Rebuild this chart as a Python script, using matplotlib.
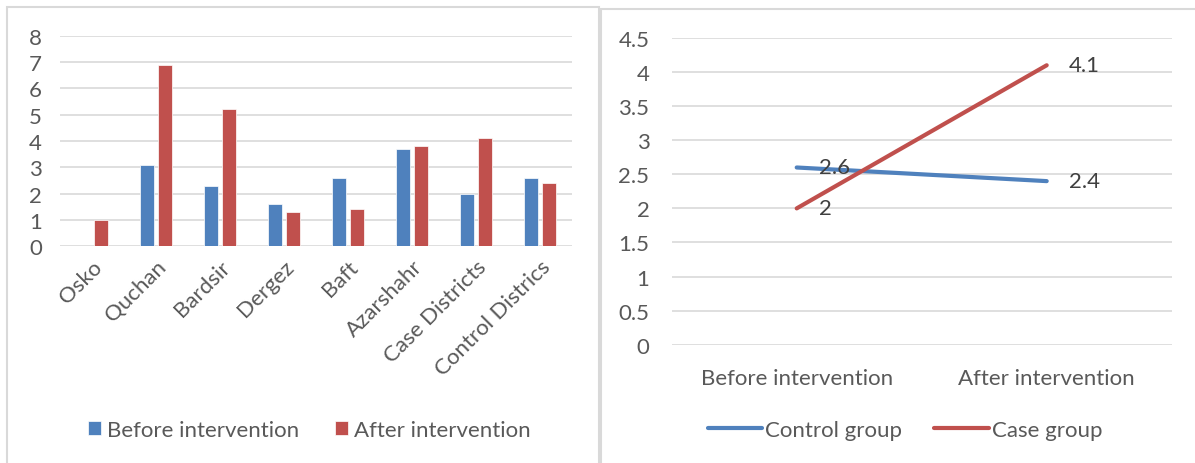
import matplotlib.pyplot as plt
from matplotlib.patches import Rectangle
import numpy as np

# data
districts = ['Osko', 'Quchan', 'Bardsir', 'Dergez', 'Baft', 'Azarshahr',
             'Case Districts', 'Control Districs']
before_vals = [0, 3.1, 2.3, 1.6, 2.6, 3.7, 2.0, 2.6]
after_vals = [1.0, 6.9, 5.2, 1.3, 1.4, 3.8, 4.1, 2.4]

periods = ['Before intervention', 'After intervention']
control_group = [2.6, 2.4]
case_group = [2.0, 4.1]

BLUE = '#4F81BD'
RED = '#C0504D'
TICK_C = '#595959'
LABEL_C = '#404040'
GRID_C = '#D9D9D9'

W, H = 1195, 464
plt.rcParams['font.family'] = ['Lato', 'DejaVu Sans']
FS = 16

fig = plt.figure(figsize=(W / 100, H / 100), dpi=100)


def px_axes(x0, x1, ytop, ybot):
    return fig.add_axes([x0 / W, (H - ybot) / H, (x1 - x0) / W, (ybot - ytop) / H])


# panel borders
for (x0, y0, x1) in [(7, 8, 599), (601, 10, 1200)]:
    fig.patches.append(Rectangle((x0 / W, -0.1), (x1 - x0) / W, (H - y0) / H + 0.1,
                                 transform=fig.transFigure, fill=False,
                                 edgecolor=GRID_C, linewidth=1.5))

# ---- left: bar chart ----
ax1 = px_axes(60, 572, 36.7, 247.3)
x = np.arange(len(districts))
bw = 0.22
ax1.bar(x - 0.14, before_vals, bw, color=BLUE, edgecolor='white', linewidth=0.5,
        label='Before intervention', zorder=3)
ax1.bar(x + 0.14, after_vals, bw, color=RED, edgecolor='white', linewidth=0.5,
        label='After intervention', zorder=3)
ax1.set_xlim(-0.5, len(districts) - 0.5)
ax1.set_ylim(0, 8)
ax1.set_yticks(range(0, 9))
ax1.grid(axis='y', color=GRID_C, linewidth=1.2, zorder=0)
ax1.set_xticks(x)
ax1.set_xticklabels(districts, rotation=45, ha='right', va='top',
                    rotation_mode='anchor')
ax1.tick_params(axis='both', length=0, labelsize=FS, labelcolor=TICK_C)
ax1.tick_params(axis='x', pad=7)
ax1.tick_params(axis='y', pad=13)
for s in ax1.spines.values():
    s.set_visible(False)
ax1.legend(loc='center', bbox_to_anchor=(309 / W, (H - 431) / H),
           bbox_transform=fig.transFigure, ncol=2, frameon=False, fontsize=FS,
           handlelength=0.6, handleheight=0.6, handletextpad=0.27,
           columnspacing=1.6, labelcolor=TICK_C)

# ---- right: line chart ----
ax2 = px_axes(671.7, 1171.7, 39, 345.7)
xp = np.arange(len(periods))
ax2.plot(xp, control_group, color=BLUE, linewidth=3, solid_capstyle='round',
         label='Control group', zorder=3)
ax2.plot(xp, case_group, color=RED, linewidth=3, solid_capstyle='round',
         label='Case group', zorder=4)
for xi, v in zip(xp, control_group):
    ax2.annotate(f'{v:g}', (xi, v), xytext=(16, 0), textcoords='offset points',
                 va='center', ha='left', fontsize=FS, color=LABEL_C, zorder=5)
for xi, v in zip(xp, case_group):
    ax2.annotate(f'{v:g}', (xi, v), xytext=(16, 0), textcoords='offset points',
                 va='center', ha='left', fontsize=FS, color=LABEL_C, zorder=5)
ax2.set_xlim(-0.5, 1.5)
ax2.set_ylim(0, 4.5)
ax2.set_yticks(np.arange(0, 4.51, 0.5))
ax2.set_yticklabels([f'{v:g}' for v in np.arange(0, 4.51, 0.5)])
ax2.set_xticks(xp)
ax2.set_xticklabels(periods)
ax2.grid(axis='y', color=GRID_C, linewidth=1.2, zorder=0)
ax2.tick_params(axis='both', length=0, labelsize=FS, labelcolor=TICK_C)
ax2.tick_params(axis='x', pad=17)
ax2.tick_params(axis='y', pad=16)
for s in ax2.spines.values():
    s.set_visible(False)
ax2.legend(loc='center', bbox_to_anchor=(905 / W, (H - 431) / H),
           bbox_transform=fig.transFigure, ncol=2, frameon=False, fontsize=FS,
           handlelength=2.45, handletextpad=0.14, columnspacing=1.45,
           labelcolor=TICK_C)

fig.savefig('out.png', dpi=100)
